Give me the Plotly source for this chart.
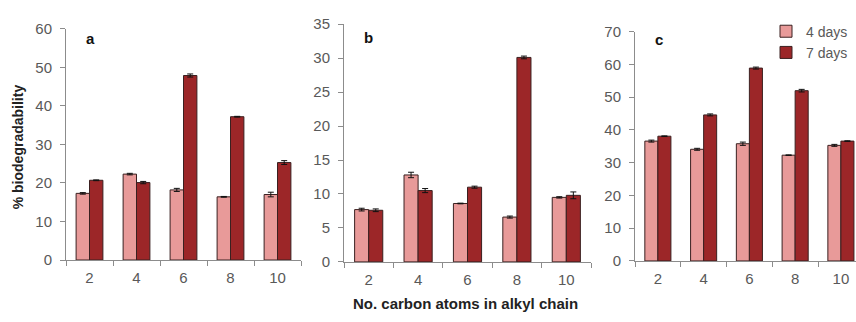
import plotly.graph_objects as go

categories = ["2", "4", "6", "8", "10"]

a_4d = [17.3, 22.3, 18.2, 16.4, 17.0]
a_4d_err = [0.2, 0.2, 0.4, 0.1, 0.6]
a_7d = [20.7, 20.1, 47.9, 37.2, 25.3]
a_7d_err = [0.1, 0.3, 0.4, 0.1, 0.5]

b_4d = [7.7, 12.8, 8.6, 6.6, 9.5]
b_4d_err = [0.2, 0.4, 0.05, 0.15, 0.1]
b_7d = [7.6, 10.5, 11.0, 30.1, 9.8]
b_7d_err = [0.2, 0.3, 0.15, 0.2, 0.5]

c_4d = [36.6, 34.1, 35.8, 32.3, 35.3]
c_4d_err = [0.3, 0.3, 0.5, 0.1, 0.3]
c_7d = [38.1, 44.6, 58.9, 52.0, 36.6]
c_7d_err = [0.1, 0.3, 0.3, 0.4, 0.1]

panel_labels = ["a", "b", "c"]
y_ticks = [[0, 10, 20, 30, 40, 50, 60], [0, 5, 10, 15, 20, 25, 30, 35], [0, 10, 20, 30, 40, 50, 60, 70]]
y_ranges = [[0, 60], [0, 35], [0, 70]]

LIGHT = "#E89A99"
DARK = "#9C2628"
EDGE = "#3a2020"
AXIS = "#8c8c8c"
TXT = "#595959"

W, H = 856, 322
# pixel layout of each panel: (x0, x1, y_zero, y_top)
panels = [(66, 301, 265, 21), (344, 591, 267, 16), (635, 856, 266, 24)]
x_ranges = [[-0.5, 4.5], [-0.5, 4.5], [-0.5, 4.33]]
label_y = [31, 30, 32]

data = [(a_4d, a_4d_err, a_7d, a_7d_err), (b_4d, b_4d_err, b_7d, b_7d_err), (c_4d, c_4d_err, c_7d, c_7d_err)]

fig = go.Figure()
for i, (v4, e4, v7, e7) in enumerate(data):
    xa = "x" if i == 0 else f"x{i+1}"
    ya = "y" if i == 0 else f"y{i+1}"
    fig.add_trace(go.Bar(
        x=categories, y=v4, name="4 days", xaxis=xa, yaxis=ya,
        marker=dict(color=LIGHT, line=dict(color=EDGE, width=1)),
        error_y=dict(type="data", array=e4, color="#111111", thickness=1, width=3),
        showlegend=(i == 2), legendgroup="4d"))
    fig.add_trace(go.Bar(
        x=categories, y=v7, name="7 days", xaxis=xa, yaxis=ya,
        marker=dict(color=DARK, line=dict(color=EDGE, width=1)),
        error_y=dict(type="data", array=e7, color="#111111", thickness=1, width=3),
        showlegend=(i == 2), legendgroup="7d"))

layout = dict(
    width=W, height=H,
    margin=dict(l=0, r=0, t=0, b=0),
    paper_bgcolor="white", plot_bgcolor="white",
    barmode="group", bargap=0.43, bargroupgap=0.0,
    font=dict(family="Liberation Sans, Arial, sans-serif", size=13, color=TXT),
    showlegend=True,
    legend=dict(x=766 / W, xanchor="left", y=1 - 7 / H, yanchor="top",
                bgcolor="rgba(0,0,0,0)", font=dict(size=14, color=TXT),
                tracegroupgap=0, itemwidth=30),
)

annotations = []
for i, (x0, x1, yz, yt) in enumerate(panels):
    sfx = "" if i == 0 else str(i + 1)
    layout[f"xaxis{sfx}"] = dict(
        domain=[x0 / W, x1 / W], anchor=f"y{sfx}", type="category",
        range=x_ranges[i], showline=True, linecolor=AXIS, linewidth=1,
        ticks="outside", tickson="boundaries", ticklen=5, tickcolor=AXIS,
        showgrid=False, zeroline=False, tickfont=dict(size=15, color=TXT),
        ticklabelstandoff=4,
    )
    layout[f"yaxis{sfx}"] = dict(
        domain=[1 - yz / H, 1 - yt / H], anchor=f"x{sfx}",
        range=y_ranges[i], tickvals=y_ticks[i], showline=True, linecolor=AXIS,
        linewidth=1, ticks="outside", ticklen=5, tickcolor=AXIS,
        showgrid=False, zeroline=False, tickfont=dict(size=15, color=TXT),
        ticklabelstandoff=5,
    )
    annotations.append(dict(
        text=f"<b>{panel_labels[i]}</b>", xref=f"x{sfx} domain", yref=f"y{sfx} domain",
        x=24 / (x1 - x0), y=1 - (label_y[i] - yt) / (yz - yt),
        showarrow=False, font=dict(size=15, color="#111111"), xanchor="center", yanchor="middle"))

annotations.append(dict(
    text="<b>% biodegradability</b>", xref="paper", yref="paper", textangle=-90,
    x=18 / W, y=1 - 146 / H, showarrow=False, xanchor="center", yanchor="middle",
    font=dict(size=14, color="#222222")))
annotations.append(dict(
    text="<b>No. carbon atoms in alkyl chain</b>", xref="paper", yref="paper",
    x=465 / W, y=1 - 311 / H, showarrow=False, xanchor="center", yanchor="middle",
    font=dict(size=15, color="#222222")))
layout["annotations"] = annotations

fig.update_layout(**layout)
fig.write_html("out.html")
